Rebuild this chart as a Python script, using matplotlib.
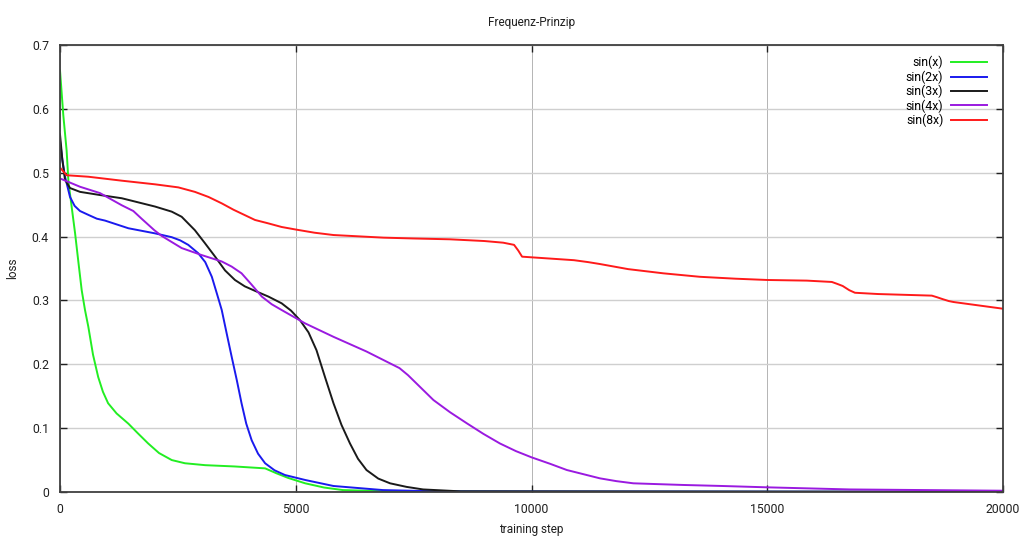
import numpy as np
import matplotlib
matplotlib.use("Agg")
import matplotlib.pyplot as plt

plt.rcParams['font.family'] = ['Roboto', 'DejaVu Sans']

# sin(x)
steps_g = [0, 70, 140, 180, 250, 320, 390, 460, 530, 600, 700, 810, 910, 1020, 1200, 1450, 1650, 1870, 2100, 2370, 2650, 3080, 3700, 4350, 4600, 4840, 5200, 5600, 6000, 7000, 10000, 15000, 20000]
loss_g = [0.66, 0.59, 0.535, 0.485, 0.445, 0.405, 0.36, 0.316, 0.285, 0.259, 0.215, 0.18, 0.157, 0.139, 0.123, 0.107, 0.092, 0.076, 0.061, 0.050, 0.045, 0.042, 0.040, 0.037, 0.029, 0.022, 0.0136, 0.007, 0.003, 0.001, 0.0005, 0.0003, 0.0002]

# sin(2x)
steps_b = [0, 50, 106, 212, 310, 424, 600, 780, 955, 1450, 2015, 2370, 2550, 2720, 2930, 3080, 3220, 3330, 3430, 3530, 3640, 3750, 3850, 3950, 4065, 4200, 4350, 4550, 4770, 5200, 5800, 6850, 8000, 20000]
loss_b = [0.55, 0.52, 0.494, 0.462, 0.448, 0.44, 0.434, 0.428, 0.425, 0.413, 0.405, 0.399, 0.394, 0.387, 0.374, 0.36, 0.337, 0.31, 0.285, 0.25, 0.212, 0.175, 0.139, 0.107, 0.081, 0.06, 0.045, 0.034, 0.0266, 0.0188, 0.0094, 0.003, 0.001, 0.0003]

# sin(3x)
steps_k = [0, 50, 106, 212, 424, 850, 1310, 2015, 2370, 2580, 2700, 2860, 3070, 3290, 3500, 3710, 3920, 4135, 4420, 4700, 4900, 5090, 5270, 5440, 5620, 5800, 5970, 6150, 6320, 6500, 6750, 7000, 7350, 7700, 8500, 20000]
loss_k = [0.56, 0.52, 0.489, 0.476, 0.470, 0.465, 0.46, 0.447, 0.439, 0.431, 0.422, 0.41, 0.39, 0.3685, 0.347, 0.332, 0.322, 0.315, 0.306, 0.2955, 0.284, 0.269, 0.25, 0.222, 0.18, 0.139, 0.105, 0.076, 0.052, 0.0344, 0.021, 0.0136, 0.008, 0.004, 0.001, 0.0002]

# sin(4x)
steps_p = [0, 424, 850, 1310, 1555, 1730, 2000, 2156, 2580, 3005, 3430, 3640, 3850, 4060, 4280, 4490, 4700, 5200, 5800, 6500, 7200, 7380, 7560, 7920, 8270, 8630, 8980, 9330, 9670, 10000, 10400, 10750, 11450, 11800, 12160, 12600, 13220, 14000, 15000, 16750, 20000]
loss_p = [0.491, 0.478, 0.468, 0.449, 0.440, 0.428, 0.41, 0.401, 0.382, 0.371, 0.361, 0.353, 0.3425, 0.325, 0.306, 0.294, 0.285, 0.264, 0.243, 0.22, 0.194, 0.183, 0.17, 0.144, 0.125, 0.1075, 0.091, 0.076, 0.064, 0.0543, 0.044, 0.0344, 0.0214, 0.017, 0.0136, 0.0125, 0.011, 0.0095, 0.0073, 0.004, 0.002]

# sin(8x)
steps_r = [0, 140, 600, 1310, 2015, 2510, 2860, 3150, 3430, 3680, 4135, 4400, 4700, 5000, 5400, 5800, 6860, 7500, 8270, 9000, 9400, 9630, 9720, 9800, 10000, 10900, 11200, 11450, 12050, 12800, 13570, 14330, 15000, 15840, 16370, 16480, 16600, 16740, 16860, 17350, 18490, 18600, 18720, 18850, 18950, 20000]
loss_r = [0.508, 0.496, 0.4937, 0.4875, 0.4818, 0.477, 0.470, 0.462, 0.452, 0.442, 0.426, 0.421, 0.415, 0.411, 0.406, 0.4024, 0.3983, 0.397, 0.3957, 0.393, 0.3904, 0.387, 0.378, 0.3685, 0.3675, 0.363, 0.360, 0.357, 0.349, 0.3424, 0.337, 0.334, 0.332, 0.331, 0.3289, 0.326, 0.3226, 0.316, 0.312, 0.310, 0.3075, 0.305, 0.302, 0.299, 0.2975, 0.287]

labels = ['sin(x)', 'sin(2x)', 'sin(3x)', 'sin(4x)', 'sin(8x)']
colores = ['#22ee22', '#1a1aee', '#1a1a1a', '#9a1ae0', '#ff1a1a']
series = [(steps_g, loss_g), (steps_b, loss_b), (steps_k, loss_k), (steps_p, loss_p), (steps_r, loss_r)]

fig = plt.figure(figsize=(10.24, 5.4), dpi=100)
ax = fig.add_axes([0.0586, 0.0889, 0.9209, 0.8278])

for (s, l), lab, c in zip(series, labels, colores):
    ax.plot(s, l, color=c, lw=1.4, label=lab, solid_joinstyle='round')

ax.set_xlim(0, 20000)
ax.set_ylim(0, 0.7)
ax.set_xticks([0, 5000, 10000, 15000, 20000])
ax.set_yticks([0, 0.1, 0.2, 0.3, 0.4, 0.5, 0.6, 0.7])
ax.set_yticklabels(['0', '0.1', '0.2', '0.3', '0.4', '0.5', '0.6', '0.7'])
ax.grid(True, axis='y', color='#cfcfcf', lw=1.0)
ax.grid(True, axis='x', color='#a8a8a8', lw=0.6)
ax.set_axisbelow(True)
ax.tick_params(direction='in', top=True, right=True, length=5, width=1, labelsize=8.8, pad=8, colors='#202020')
for sp in ax.spines.values():
    sp.set_color('#404040')
    sp.set_linewidth(1.3)

ax.set_title('Frequenz-Prinzip', fontsize=8.5, pad=14, color='#202020')
ax.set_xlabel('training step', fontsize=8.5, labelpad=5, color='#202020')
ax.set_ylabel('loss', fontsize=8.5, labelpad=9, color='#202020')

leg = ax.legend(loc='upper right', bbox_to_anchor=(0.995, 1.0), frameon=False, markerfirst=False,
                fontsize=8.8, handlelength=3.0, labelspacing=0.08, handletextpad=0.6)

fig.savefig('out.png', dpi=100)
